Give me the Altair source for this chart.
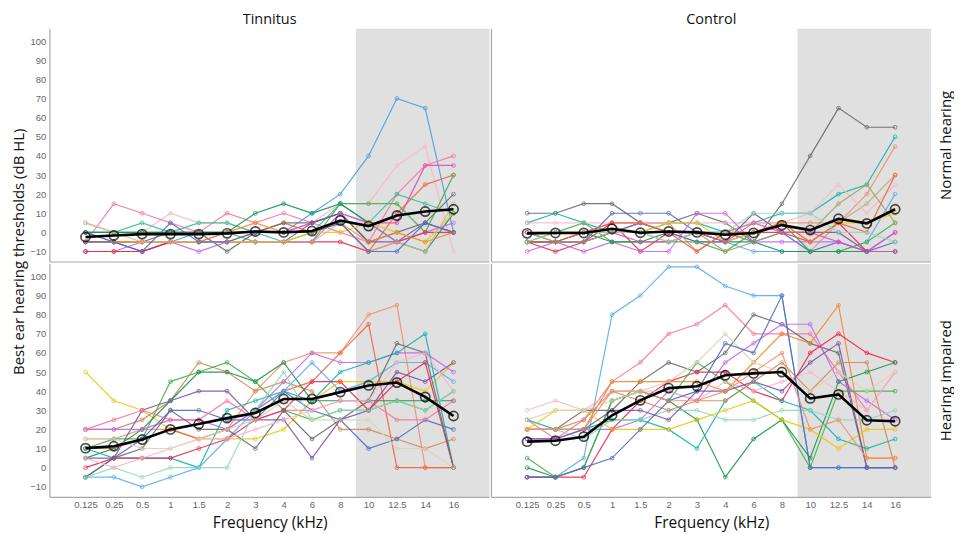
import altair as alt
import pandas as pd

FREQ_LABELS = ["0.125", "0.25", "0.5", "1", "1.5", "2", "3", "4", "6", "8",
               "10", "12.5", "14", "16"]
GROUPS = ["Tinnitus", "Control"]
HEARING = ["Normal hearing", "Hearing impaired"]

# individual participants (dB HL), one list per participant
tin_nh = [
    [0, -5, -5, -5, 0, 0, 0, 0, 10, 20, 40, 70, 65, 0],
    [5, 0, 0, 10, 5, 5, 0, 0, 5, 15, 15, 35, 45, -10],
    [-5, 15, 10, 5, 0, 10, 5, 10, 5, 0, -5, 20, 35, 40],
    [-5, -5, -5, -5, -5, 0, 0, 0, 5, 10, 5, 5, 35, 35],
    [-10, -10, -10, -5, -5, -5, 0, 5, 0, 5, -10, 10, 25, 30],
    [0, 0, 0, 0, 0, 0, -5, -5, -5, 15, 15, 15, 0, 30],
    [0, 0, 5, 0, 5, 5, 0, -5, 0, 15, 5, 20, 15, 10],
    [0, 0, 0, 0, 0, 0, 10, 15, 10, 15, 5, -5, -10, 10],
    [-5, -5, -5, 0, 0, -10, 0, 5, 5, 10, -5, 0, 5, 20],
    [0, -5, -10, -5, -5, -5, -5, -5, 5, 10, -5, -5, 5, 0],
    [-10, -10, -5, -5, -10, -5, -5, -5, -5, 10, 5, -5, 0, 5],
    [-10, -10, -10, -5, -5, -5, -5, -5, -5, -5, -10, -5, 0, 0],
    [-5, -5, -5, -5, -5, -5, -5, -5, 0, 0, 5, 0, -5, 10],
    [-5, -5, -5, -5, -5, 0, 5, 0, 0, 5, -5, 0, -5, 0],
    [5, 0, -5, -5, -5, -5, -5, -5, -5, 5, -10, -5, -10, 15],
    [-5, -5, -10, 5, -5, -5, 0, 0, 0, 5, -10, -10, 5, 0],
]
ctl_nh = [
    [10, 10, 15, 15, 5, 5, 10, 5, -5, 15, 40, 65, 55, 55],
    [5, 10, 5, 0, 0, 5, 5, 0, 5, 10, 10, 20, 25, 50],
    [0, -5, 0, 5, 5, 5, -10, 0, 5, 5, 5, 5, 20, 45],
    [0, -5, -5, 0, 5, 0, 0, 0, 0, 5, -10, 5, 15, 30],
    [5, 5, 5, 5, 5, 5, 5, 5, 5, 5, 10, 25, 10, 25],
    [-5, -5, -5, 10, 10, 10, 0, 0, -5, 0, -10, -5, -10, -5],
    [0, 0, 0, 0, 0, 0, -5, -5, -10, -10, -10, -10, -5, 20],
    [-5, -10, -5, 5, -10, 0, 0, -5, 0, 0, -5, 5, -10, 0],
    [-10, -5, -10, -5, -10, -10, 10, 10, -5, -5, -5, -5, -10, 0],
    [-5, -5, -5, 0, 5, 0, -5, -5, 10, 0, 0, 0, -10, -10],
    [-5, 0, 5, -5, -5, -5, -5, -10, 0, 5, -10, -10, -5, 5],
    [-5, -5, 0, -5, -5, 0, 0, -5, -5, -10, -10, -10, -10, -10],
    [0, 0, 0, 0, 0, 5, 5, -5, 0, 5, -5, 5, 5, 10],
    [-5, -5, 0, 5, 5, 0, -10, 0, 0, 5, -5, 5, 0, 30],
    [0, -5, -5, 0, 0, -5, 0, -10, -5, 0, 0, 15, 25, 5],
    [0, 0, 0, 0, -5, -5, 0, -5, 5, 0, 0, -5, -10, -10],
    [-5, 0, 0, 0, 0, -5, 0, 0, 10, 10, 10, 0, 0, -5],
]
tin_hi = [
    [50, 35, 30, 20, 15, 15, 15, 20, 35, 45, 45, 45, 40, 55],
    [15, 15, 20, 20, 15, 20, 40, 55, 60, 60, 80, 85, 0, 0],
    [10, 10, 15, 20, 15, 20, 30, 40, 45, 60, 75, 0, 0, 0],
    [20, 20, 25, 35, 55, 50, 40, 45, 40, 20, 20, 15, 10, 15],
    [10, 15, 15, 45, 50, 55, 45, 30, 25, 30, 30, 35, 30, 40],
    [5, 10, 20, 35, 50, 50, 45, 55, 35, 35, 35, 35, 35, 35],
    [5, 5, 30, 35, 40, 40, 25, 25, 5, 25, 30, 50, 45, 55],
    [20, 20, 20, 25, 25, 20, 30, 45, 60, 55, 55, 60, 60, 50],
    [-5, 5, 15, 30, 30, 25, 25, 40, 30, 25, 10, 15, 25, 20],
    [10, 5, 5, 5, 0, 30, 35, 40, 35, 50, 55, 60, 70, 0],
    [-5, -5, -10, -5, 0, 15, 30, 40, 55, 40, 45, 55, 55, 45],
    [20, 25, 30, 25, 25, 35, 25, 30, 30, 35, 35, 25, 25, 35],
    [0, 5, 5, 5, 10, 15, 25, 30, 45, 45, 30, 45, 55, 0],
    [-5, 5, 10, 30, 20, 20, 10, 30, 15, 25, 35, 65, 60, 0],
    [-5, 0, -5, 0, 0, 0, 30, 50, 25, 30, 30, 35, 30, 40],
    [5, 0, 5, 10, 15, 15, 20, 25, 30, 35, 35, 55, 60, 40],
    [15, 15, 10, 10, 15, 20, 25, 35, 25, 25, 25, 10, 10, 0],
]
ctl_hi = [
    [-5, -5, 5, 80, 90, 105, 105, 95, 90, 90, 0, 0, 0, 0],
    [25, 15, 25, 45, 55, 70, 75, 85, 70, 70, 70, 50, 30, 50],
    [20, 20, 30, 30, 45, 55, 50, 60, 80, 75, 65, 60, 0, 0],
    [15, 15, 20, 20, 25, 40, 35, 55, 65, 75, 75, 45, 35, 25],
    [20, 20, 20, 45, 45, 45, 45, 40, 55, 70, 65, 85, 5, 5],
    [-5, -5, -5, 20, 35, 45, 50, 50, 40, 35, 60, 70, 60, 55],
    [0, -5, 0, 35, 40, 35, 25, -5, 15, 25, 5, 45, 50, 55],
    [5, -5, 0, 35, 40, 35, 55, 45, 35, 25, 0, 40, 40, 40],
    [25, 20, 20, 25, 25, 20, 10, 35, 45, 35, 30, 15, 10, 15],
    [20, 20, 15, 25, 25, 30, 30, 25, 25, 30, 30, 25, 25, 30],
    [20, 30, 30, 20, 20, 20, 25, 30, 35, 25, 20, 10, 20, 20],
    [30, 35, 30, 40, 40, 40, 35, 45, 40, 45, 50, 40, 30, 50],
    [15, 15, 20, 30, 30, 25, 40, 40, 45, 40, 55, 65, 0, 0],
    [20, 20, 25, 40, 35, 30, 35, 35, 45, 55, 40, 55, 55, 0],
    [25, 30, 30, 35, 40, 45, 55, 70, 55, 50, 40, 50, 40, 50],
    [-5, -5, 0, 5, 20, 35, 40, 65, 60, 90, 0, 0, 0, 0],
    [20, 20, 20, 40, 40, 35, 35, 40, 50, 60, 20, 25, 5, 5],
]

# group means (black line)
mean_tin_nh = [-2.4, -1.6, -0.9, -0.9, -0.9, -0.5, 0.5, 0, 0.7, 6.2, 3.3, 8.8, 10.9, 12.1]
mean_ctl_nh = [-0.5, -0.3, -0.3, 1.9, -0.2, 0.5, 0, -1.2, -0.3, 3.8, 1.2, 7.1, 4.7, 12.1]
mean_tin_hi = [10.2, 11.2, 14.7, 20, 22.8, 25.9, 28.6, 35.9, 35.9, 39.5, 43, 44.5, 37, 27]
mean_ctl_hi = [13.6, 14.1, 16.2, 27.4, 35.2, 41.6, 42.6, 48.3, 49.3, 50, 36.2, 38.3, 24.8, 24.3]

# ---- styling -------------------------------------------------------------
C = {
    "blue": "#4a9ee0", "lpink": "#f8b8cc", "pink": "#f7779f", "magenta": "#e04cb0",
    "ored": "#ee6240", "green": "#43b047", "tgreen": "#33c096", "dgreen": "#13934f",
    "gray": "#6a6a6a", "purple": "#7b52a3", "violet": "#c466ee", "red": "#f0284c",
    "yellow": "#ecc810", "orange": "#f28a2a", "tan": "#cdb88f", "navy": "#4f6cc4",
    "mint": "#8fd8bc", "teal": "#12b5ae", "salmon": "#f2906a", "khaki": "#bfae7a",
    "lblue": "#5aaee8", "olive": "#a9a264", "brown": "#d08a5a", "lkhaki": "#dcd4b4",
}
panel_colors = {
    ("Tinnitus", "Normal hearing"): ["blue", "lpink", "pink", "magenta", "ored", "green",
                                     "tgreen", "dgreen", "gray", "purple", "violet", "red",
                                     "yellow", "orange", "tan", "navy"],
    ("Control", "Normal hearing"): ["gray", "teal", "salmon", "khaki", "lpink", "navy",
                                    "lblue", "red", "violet", "purple", "green", "dgreen",
                                    "yellow", "ored", "olive", "magenta", "mint"],
    ("Tinnitus", "Hearing impaired"): ["yellow", "salmon", "ored", "brown", "green", "dgreen",
                                       "purple", "violet", "navy", "teal", "lblue", "pink",
                                       "red", "gray", "mint", "lpink", "lkhaki"],
    ("Control", "Hearing impaired"): ["lblue", "pink", "gray", "violet", "orange", "red",
                                      "dgreen", "green", "teal", "mint", "yellow", "lpink",
                                      "purple", "brown", "lkhaki", "navy", "salmon"],
}

W, H = 441, 234
XDOM = [-1.26, 14.27]
SHADE_FROM = 9.55

panels = [
    ("Tinnitus", "Normal hearing", tin_nh, mean_tin_nh),
    ("Control", "Normal hearing", ctl_nh, mean_ctl_nh),
    ("Tinnitus", "Hearing impaired", tin_hi, mean_tin_hi),
    ("Control", "Hearing impaired", ctl_hi, mean_ctl_hi),
]

rows = []
ids, cols = [], []
for g, h, subs, mean in panels:
    names = panel_colors[(g, h)]
    for si, vals in enumerate(subs):
        sid = f"{g}-{h}-{si}"
        ids.append(sid)
        cols.append(C[names[si % len(names)]])
        for xi, v in enumerate(vals):
            rows.append(dict(group=g, hearing=h, kind="subj", subj=sid, xi=xi, val=v))
    for xi, v in enumerate(mean):
        rows.append(dict(group=g, hearing=h, kind="mean", subj="mean", xi=xi, val=v))
    rows.append(dict(group=g, hearing=h, kind="shade", subj="shade",
                     x0=SHADE_FROM, x1=XDOM[1]))
df = pd.DataFrame(rows)

label_arr = "[" + ",".join(f"'{s}'" for s in FREQ_LABELS) + "]"
xscale = alt.Scale(domain=XDOM, nice=False, zero=False)
yscale = alt.Scale(domain=[-15.5, 106.5], nice=False, zero=False)
xaxis = alt.Axis(values=list(range(len(FREQ_LABELS))),
                 labelExpr=f"{label_arr}[datum.value]",
                 ticks=False, domain=False, grid=False,
                 title="Frequency (kHz)", labelPadding=1, titlePadding=7)
yaxis = alt.Axis(values=list(range(-10, 101, 10)), ticks=False, domain=False,
                 grid=False, title=None, labelPadding=3)

X = alt.X("xi:Q", scale=xscale, axis=xaxis, title="Frequency (kHz)")
Y = alt.Y("val:Q", scale=yscale, axis=yaxis)

base = alt.Chart()

shade = base.mark_rect(color="#e0e0e0").encode(
    x=alt.X("x0:Q", scale=xscale, axis=xaxis, title="Frequency (kHz)"),
    x2="x1:Q",
    y=alt.value(0), y2=alt.value(H),
).transform_filter("datum.kind == 'shade'")

subj = base.mark_line(
    strokeWidth=1.2, opacity=0.9, clip=True,
    point=alt.OverlayMarkDef(filled=False, size=14, strokeWidth=1, opacity=0.8),
).encode(
    x=X, y=Y,
    color=alt.Color("subj:N", scale=alt.Scale(domain=ids, range=cols), legend=None),
    order="xi:Q",
).transform_filter("datum.kind == 'subj'")

mean_line = base.mark_line(color="black", strokeWidth=2.6).encode(
    x=X, y=Y, order="xi:Q").transform_filter("datum.kind == 'mean'")
mean_pts = base.mark_point(color="black", filled=False, size=85, strokeWidth=1.7,
                           shape="circle").encode(
    x=X, y=Y).transform_filter("datum.kind == 'mean'")

edge_left = base.mark_rule(color="#a8a8a8", strokeWidth=1.2).encode(
    x=alt.value(0), y=alt.value(0), y2=alt.value(H)
).transform_filter("datum.kind == 'shade'")
edge_bottom = base.mark_rule(color="#a8a8a8", strokeWidth=1.2).encode(
    x=alt.value(0), x2=alt.value(W), y=alt.value(H)
).transform_filter("datum.kind == 'shade'")

layered = alt.layer(shade, subj, mean_line, mean_pts, edge_left, edge_bottom).properties(
    width=W, height=H)

chart = layered.facet(
    data=df,
    row=alt.Row("hearing:N", sort=HEARING, title=None,
                header=alt.Header(labelOrient="right", labelAngle=270,
                                  labelFontSize=15, labelFont="Open Sans",
                                  labelColor="#111", labelPadding=7)),
    column=alt.Column("group:N", sort=GROUPS, title=None,
                      header=alt.Header(labelFontSize=14.5, labelFont="Open Sans",
                                        labelColor="#111", labelPadding=0)),
    spacing=0,
).configure_view(stroke=None).configure_axis(
    labelFont="Liberation Sans", labelFontSize=9.5, labelColor="#666",
    titleFont="Open Sans", titleFontSize=15.5, titleFontWeight="normal",
    titleColor="#111",
).properties(
    title=alt.TitleParams(text="Best ear hearing thresholds (dB HL)", orient="left",
                          anchor="middle", fontSize=15, font="Open Sans",
                          fontWeight="normal", color="#111", offset=3, dx=20),
    padding={"left": 3, "top": 3, "right": 0, "bottom": 0},
    background="white",
)

chart.save("out.html", embed_options={"renderer": "svg", "actions": False})
